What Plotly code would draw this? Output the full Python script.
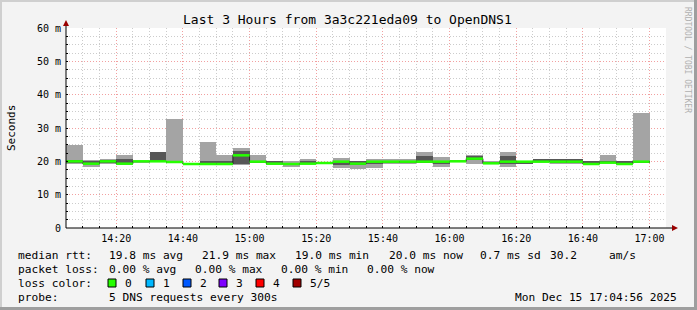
import plotly.graph_objects as go

# ---------------- data ----------------
title_text = "Last 3 Hours from 3a3c221eda09 to OpenDNS1"
day = "2025-12-15"
slot_start = ["14:05", "14:10", "14:15", "14:20", "14:25", "14:30", "14:35", "14:40",
              "14:45", "14:50", "14:55", "15:00", "15:05", "15:10", "15:15", "15:20",
              "15:25", "15:30", "15:35", "15:40", "15:45", "15:50", "15:55", "16:00",
              "16:05", "16:10", "16:15", "16:20", "16:25", "16:30", "16:35", "16:40",
              "16:45", "16:50", "16:55"]
slot_end_last = "17:00"
# round-trip times (ms) of the 5 sorted pings per step
ping_min = [19.2, 18.2, 19.2, 18.8, 19.6, 19.8, 19.5, 19.0, 19.0, 19.0, 19.0, 19.5,
            19.0, 18.2, 19.2, 19.3, 18.0, 17.7, 18.0, 19.2, 19.2, 19.4, 18.2, 19.8,
            19.2, 19.1, 18.2, 19.2, 19.8, 19.3, 19.3, 19.2, 19.4, 19.2, 19.5]
ping_lo = [19.6, 19.2, 19.6, 19.2, 19.8, 19.9, 19.7, 19.1, 19.1, 19.1, 19.3, 19.7,
           19.1, 19.1, 19.2, 19.4, 19.0, 18.8, 19.2, 19.4, 19.4, 19.5, 19.2, 19.9,
           20.4, 19.2, 19.2, 19.3, 19.9, 19.4, 19.4, 19.2, 19.5, 19.2, 19.7]
ping_med = [20.0, 19.3, 20.0, 19.3, 20.0, 20.0, 19.8, 19.2, 19.2, 19.2, 21.8, 19.9,
            19.3, 19.2, 19.3, 19.5, 19.9, 19.3, 19.9, 19.9, 19.9, 19.9, 19.9, 20.0,
            20.8, 19.4, 19.9, 19.9, 19.9, 19.9, 19.9, 19.2, 19.6, 19.2, 19.9]
ping_hi = [20.3, 20.0, 20.3, 20.8, 20.1, 22.9, 20.1, 19.6, 20.0, 20.0, 23.0, 20.2,
           20.0, 19.6, 20.0, 19.6, 20.0, 20.0, 20.0, 20.0, 20.0, 21.7, 20.0, 20.1,
           21.6, 19.9, 21.5, 20.0, 20.8, 20.8, 20.8, 20.0, 20.0, 20.0, 20.1]
ping_max = [24.8, 20.3, 20.8, 22.0, 20.2, 22.9, 32.6, 19.6, 25.7, 22.0, 23.9, 22.0,
            20.0, 20.0, 20.8, 19.6, 21.0, 20.0, 20.8, 20.8, 20.8, 22.8, 21.2, 20.2,
            21.8, 20.0, 22.8, 20.1, 20.8, 20.8, 20.8, 20.0, 21.8, 20.0, 34.4]
y_tick_vals = [0, 10, 20, 30, 40, 50, 60]
y_tick_text = ["0", "10 m", "20 m", "30 m", "40 m", "50 m", "60 m"]
x_start = "14:04:56"
x_end = "17:04:56"

legend_rows = [
    [("median rtt:", 16), ("19.8 ms avg", 107), ("21.9 ms max", 200), ("19.0 ms min", 293),
     ("20.0 ms now", 387), ("0.7 ms sd", 478), ("30.2", 548), ("am/s", 607)],
    [("packet loss:", 16), ("0.00 % avg", 107), ("0.00 % max", 193), ("0.00 % min", 279),
     ("0.00 % now", 365)],
    [("loss color:", 16)],
    [("probe:", 16), ("5 DNS requests every 300s", 107), ("Mon Dec 15 17:04:56 2025", 513)],
]
loss_labels = ["0", "1", "2", "3", "4", "5/5"]
loss_colors = ["#26ff00", "#00b8ff", "#0059ff", "#7e00ff", "#ff0000", "#a10000"]
loss_box_x = [108, 146, 183, 219, 256, 293]

# ---------------- geometry ----------------
W, H = 697, 310
L, R, T, B = 66, 666, 28, 228   # plot area in pixels
FONT = "DejaVu Sans Mono"


def px(x):
    return (x - L) / (R - L)


def py(y):
    return (B - y) / (B - T)


xs = [f"{day} {s}" for s in slot_start]
x_last = f"{day} {slot_end_last}"
step_ms = 5 * 60 * 1000

fig = go.Figure()

fig.add_trace(go.Bar(
    x=xs, base=ping_min, y=[b - a for a, b in zip(ping_min, ping_max)],
    width=step_ms, offset=0, marker=dict(color="#a4a4a4", line=dict(width=0)),
    hoverinfo="skip", showlegend=False))
fig.add_trace(go.Bar(
    x=xs, base=ping_lo, y=[b - a for a, b in zip(ping_lo, ping_hi)],
    width=step_ms, offset=0, marker=dict(color="#575757", line=dict(width=0)),
    hoverinfo="skip", showlegend=False))

# dark step line under median
fig.add_trace(go.Scatter(
    x=xs + [x_last], y=ping_med + [ping_med[-1]], mode="lines",
    line=dict(color="#202020", width=1, shape="hv"), hoverinfo="skip", showlegend=False))

# green median segments
gx, gy = [], []
ends = xs[1:] + [x_last]
for s, e, m in zip(xs, ends, ping_med):
    gx += [s, e, None]
    gy += [m, m, None]
fig.add_trace(go.Scatter(x=gx, y=gy, mode="lines",
                         line=dict(color=loss_colors[0], width=2.5),
                         hoverinfo="skip", showlegend=False))

fig.update_layout(
    width=W, height=H,
    margin=dict(l=L, r=W - R, t=T, b=H - B, pad=0),
    paper_bgcolor="#f3f3f3", plot_bgcolor="#ffffff",
    barmode="overlay", bargap=0,
    font=dict(family=FONT, size=10, color="#000000"),
    showlegend=False,
)

fig.update_xaxes(
    type="date", range=[f"{day} {x_start}", f"{day} {x_end}"],
    tickformat="%H:%M", tick0=f"{day} 14:00", dtick=20 * 60 * 1000,
    showgrid=True, gridcolor="#f2a0a0", griddash="1px,2px", gridwidth=1,
    ticks="inside", ticklen=2, tickcolor="#000000", ticklabelstandoff=3,
    minor=dict(dtick=step_ms, tick0=f"{day} 14:00", showgrid=True,
               gridcolor="#cccccc", griddash="1px,2px", ticks="inside",
               ticklen=2, tickcolor="#000000"),
    showline=False, zeroline=False, fixedrange=True,
    tickfont=dict(family=FONT, size=10),
)
fig.update_yaxes(
    range=[0, 60], tickvals=y_tick_vals, ticktext=y_tick_text,
    showgrid=True, gridcolor="#f2a0a0", griddash="1px,2px", gridwidth=1,
    ticks="inside", ticklen=2, tickcolor="#000000", ticklabelstandoff=4,
    minor=dict(dtick=2.5, showgrid=True, gridcolor="#cccccc", griddash="1px,2px",
               ticks="inside", ticklen=2, tickcolor="#000000"),
    showline=False, zeroline=False, fixedrange=True,
    tickfont=dict(family=FONT, size=10),
)

shapes = []
# axis lines
shapes.append(dict(type="line", xref="paper", yref="paper", x0=px(L), x1=px(L),
                   y0=py(B), y1=py(23), line=dict(color="#000000", width=1)))
shapes.append(dict(type="line", xref="paper", yref="paper", x0=px(L), x1=px(673),
                   y0=py(B), y1=py(B), line=dict(color="#000000", width=1)))
# arrows
shapes.append(dict(type="path", xref="paper", yref="paper",
                   path=f"M {px(672)} {py(225)} L {px(678)} {py(228)} L {px(672)} {py(231)} Z",
                   fillcolor="#990000", line=dict(width=0)))
shapes.append(dict(type="path", xref="paper", yref="paper",
                   path=f"M {px(63)} {py(26)} L {px(66)} {py(20)} L {px(69)} {py(26)} Z",
                   fillcolor="#990000", line=dict(width=0)))
# frame shading
shapes.append(dict(type="rect", xref="paper", yref="paper", x0=px(694), x1=px(697),
                   y0=py(310), y1=py(0), fillcolor="#9e9e9e", line=dict(width=0)))
shapes.append(dict(type="rect", xref="paper", yref="paper", x0=px(0), x1=px(697),
                   y0=py(310), y1=py(307), fillcolor="#9e9e9e", line=dict(width=0)))
shapes.append(dict(type="rect", xref="paper", yref="paper", x0=px(0), x1=px(2),
                   y0=py(307), y1=py(0), fillcolor="#cfcfcf", line=dict(width=0)))
shapes.append(dict(type="rect", xref="paper", yref="paper", x0=px(0), x1=px(694),
                   y0=py(2), y1=py(0), fillcolor="#cfcfcf", line=dict(width=0)))
# loss color boxes
for bx, col in zip(loss_box_x, loss_colors):
    shapes.append(dict(type="rect", xref="paper", yref="paper", x0=px(bx), x1=px(bx + 8),
                       y0=py(287), y1=py(279), fillcolor=col,
                       line=dict(color="#000000", width=1)))

annotations = []
annotations.append(dict(text=title_text, x=px(347), y=py(19), xref="paper", yref="paper",
                        showarrow=False, xanchor="center", yanchor="middle",
                        font=dict(family=FONT, size=13, color="#000000")))
annotations.append(dict(text="Seconds", x=px(11), y=py(128), xref="paper", yref="paper",
                        showarrow=False, xanchor="center", yanchor="middle", textangle=-90,
                        font=dict(family=FONT, size=11, color="#000000")))
annotations.append(dict(text="RRDTOOL / TOBI OETIKER", x=px(688), y=py(60), xref="paper",
                        yref="paper", showarrow=False, xanchor="center", yanchor="middle",
                        textangle=90, font=dict(family=FONT, size=8, color="#b0b0b0")))
row_y = [255, 269, 283, 297]
for row, yy in zip(legend_rows, row_y):
    for txt, xx in row:
        annotations.append(dict(text=txt, x=px(xx), y=py(yy), xref="paper", yref="paper",
                                showarrow=False, xanchor="left", yanchor="middle",
                                font=dict(family=FONT, size=11.2, color="#000000")))
for bx, lab in zip(loss_box_x, loss_labels):
    annotations.append(dict(text=lab, x=px(bx + 15), y=py(283), xref="paper", yref="paper",
                            showarrow=False, xanchor="left", yanchor="middle",
                            font=dict(family=FONT, size=11.2, color="#000000")))

fig.update_layout(shapes=shapes, annotations=annotations)
fig.write_html("out.html")
